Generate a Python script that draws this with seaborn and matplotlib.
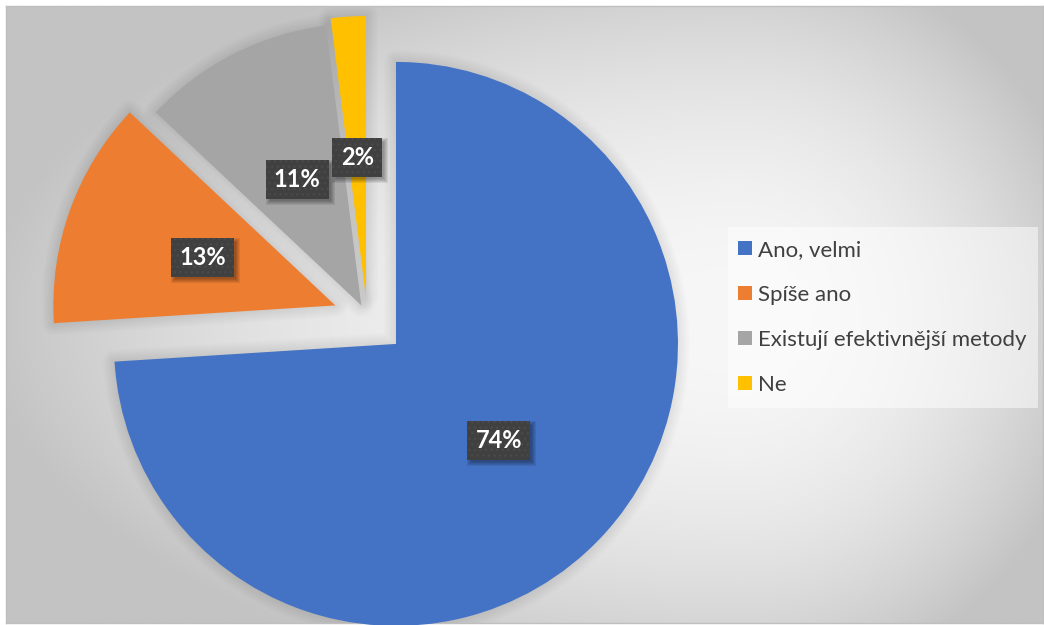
import numpy as np
import matplotlib
matplotlib.use("Agg")
import matplotlib.pyplot as plt
import matplotlib.patches as mpatches
import matplotlib.transforms as mtransforms
import seaborn as sns

# Survey answers and their shares (percent)
categories = ["Ano, velmi", "Spíše ano", "Existují efektivnější metody", "Ne"]
shares = [74, 13, 11, 2]
explode = [0.14, 0.12, 0.046, 0.067]
colors = ["#4472C4", "#ED7D31", "#A5A5A5", "#FFC000"]

sns.set_theme(style="white")
plt.rcParams["font.family"] = ["Lato", "DejaVu Sans"]

W, H = 1044, 625
fig = plt.figure(figsize=(W / 100, H / 100), dpi=100)
fig.patch.set_facecolor("white")

# plot area in pixel units (top-down) and pie geometry
x0, x1, y0, y1 = 6, 1043, 6, 623
cx, cy, R = 367.2, 316.9, 282.0
ax = fig.add_axes([x0 / W, (H - y1) / H, (x1 - x0) / W, (y1 - y0) / H])
xlim = ((x0 - cx) / R, (x1 - cx) / R)
ylim = ((cy - y1) / R, (cy - y0) / R)

# soft radial background
gx = np.linspace(x0, x1, 700)
gy = np.linspace(y0, y1, 420)
GX, GY = np.meshgrid(gx, gy)
dx = GX - 740
sx = np.where(dx > 0, 360, 760)
d = np.sqrt((dx / sx) ** 2 + ((GY - 320) / 380) ** 2)
shade = 247 - 52 * np.clip(d, 0, 1) ** 2
img = np.dstack([shade] * 3) / 255
ax.imshow(img, extent=(xlim[0], xlim[1], ylim[0], ylim[1]), origin="upper",
          aspect="auto", zorder=0, interpolation="bilinear")

wedges, texts, autotexts = ax.pie(
    shares, explode=explode, colors=colors, startangle=90, counterclock=False,
    radius=1, autopct="%.0f%%", pctdistance=0.5,
    wedgeprops=dict(linewidth=0, zorder=3),
    textprops=dict(color="white", fontweight="bold", fontsize=17, zorder=8),
)

# soft shadow around each slice
for w in wedges:
    for k in range(1, 11):
        ax.add_patch(mpatches.Wedge(w.center, w.r, w.theta1, w.theta2,
                                    facecolor="none", edgecolor="black",
                                    linewidth=k * 2.4 * 0.72, alpha=0.008,
                                    joinstyle="round", zorder=2))

# dark data-label boxes with a faint dotted texture
for t in autotexts:
    t.set_bbox(dict(boxstyle="square,pad=0.35", facecolor="#404040",
                    edgecolor="#4a4a4a", linewidth=0, hatch="..."))

ax.set_xlim(xlim)
ax.set_ylim(ylim)
ax.set_aspect("auto")
ax.set_frame_on(True)
for s in ax.spines.values():
    s.set_color("#bfbfbf")
    s.set_linewidth(1)

# legend panel
lx0, lx1, ly0, ly1 = 728, 1038, 227, 408
ax.add_patch(mpatches.Rectangle((lx0 / W, 1 - ly1 / H), (lx1 - lx0) / W, (ly1 - ly0) / H,
                                transform=fig.transFigure, facecolor="white",
                                alpha=0.5, edgecolor="none", zorder=6))
leg = ax.legend(wedges, categories, loc="upper left",
                bbox_to_anchor=(738 / W, 1 - 240 / H), bbox_transform=fig.transFigure,
                frameon=False, fontsize=16, labelcolor="#404040",
                handlelength=0.62, handleheight=0.62, handletextpad=0.3,
                labelspacing=1.12, borderpad=0.0, borderaxespad=0)
leg.set_zorder(7)

# blurred drop shadow under each label box
fig.canvas.draw()
renderer = fig.canvas.get_renderer()
ident = mtransforms.IdentityTransform()
for t in autotexts:
    bb = t.get_bbox_patch().get_window_extent(renderer)
    for k in range(5):
        grow = 3 - k
        ax.add_patch(mpatches.Rectangle((bb.x0 + 3 - grow, bb.y0 - 3 - grow),
                                        bb.width + 2 * grow, bb.height + 2 * grow,
                                        transform=ident, facecolor="black",
                                        edgecolor="none", alpha=0.08, zorder=7.5))

fig.savefig("out.png", dpi=100, facecolor="white")
